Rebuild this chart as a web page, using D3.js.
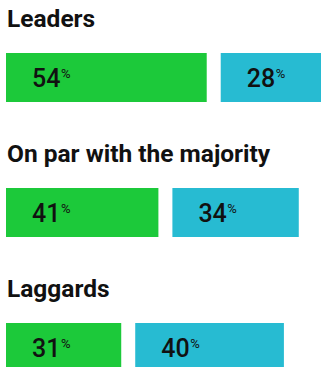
<!DOCTYPE html>
<html><head><meta charset="utf-8">
<script src="https://cdn.jsdelivr.net/npm/d3@7"></script>
<style>html,body{margin:0;padding:0;background:#fff;overflow:hidden}</style>
</head><body>
<svg id="c" width="321" height="367"></svg>
<script>
const categories = ["Leaders", "On par with the majority", "Laggards"];
const seriesA = [54, 41, 31];
const seriesB = [28, 34, 40];
const colors = ["#1cc93a", "#27bbd2"];

const W = 321, H = 367;
const svg = d3.select("#c");
const x = d3.scaleLinear().domain([0, 100]).range([0, 371.7]);
const y = d3.scaleLinear().domain([0, categories.length - 1]).range([53, 323]);
const x0 = 6, gap = 14, barH = 49;

const g = svg.selectAll("g.grp").data(categories).join("g")
  .attr("class", "grp")
  .attr("transform", (d, i) => `translate(0,${y(i)})`);

g.append("text")
  .attr("x", 7).attr("y", -26)
  .attr("font-family", "Roboto, sans-serif")
  .attr("font-weight", 700).attr("font-size", 24.5)
  .attr("fill", "#111")
  .text(d => d);

g.each(function(d, i) {
  const gg = d3.select(this);
  const bars = [
    {v: seriesA[i], x: x0, c: colors[0]},
    {v: seriesB[i], x: x0 + x(seriesA[i]) + gap, c: colors[1]}
  ];
  bars.forEach(b => {
    gg.append("rect").attr("x", b.x).attr("y", 0)
      .attr("width", x(b.v)).attr("height", barH).attr("fill", b.c);
    const t = gg.append("text").attr("x", b.x + 26).attr("y", 33.5)
      .attr("font-family", "Roboto, sans-serif").attr("font-size", 25)
      .attr("font-weight", 500)
      .attr("fill", "#111");
    t.append("tspan").text(b.v);
    t.append("tspan").attr("font-size", 13).attr("font-weight", 400)
      .attr("dx", 0.5).attr("dy", -8.5).text("%");
  });
});
</script>
</body></html>
